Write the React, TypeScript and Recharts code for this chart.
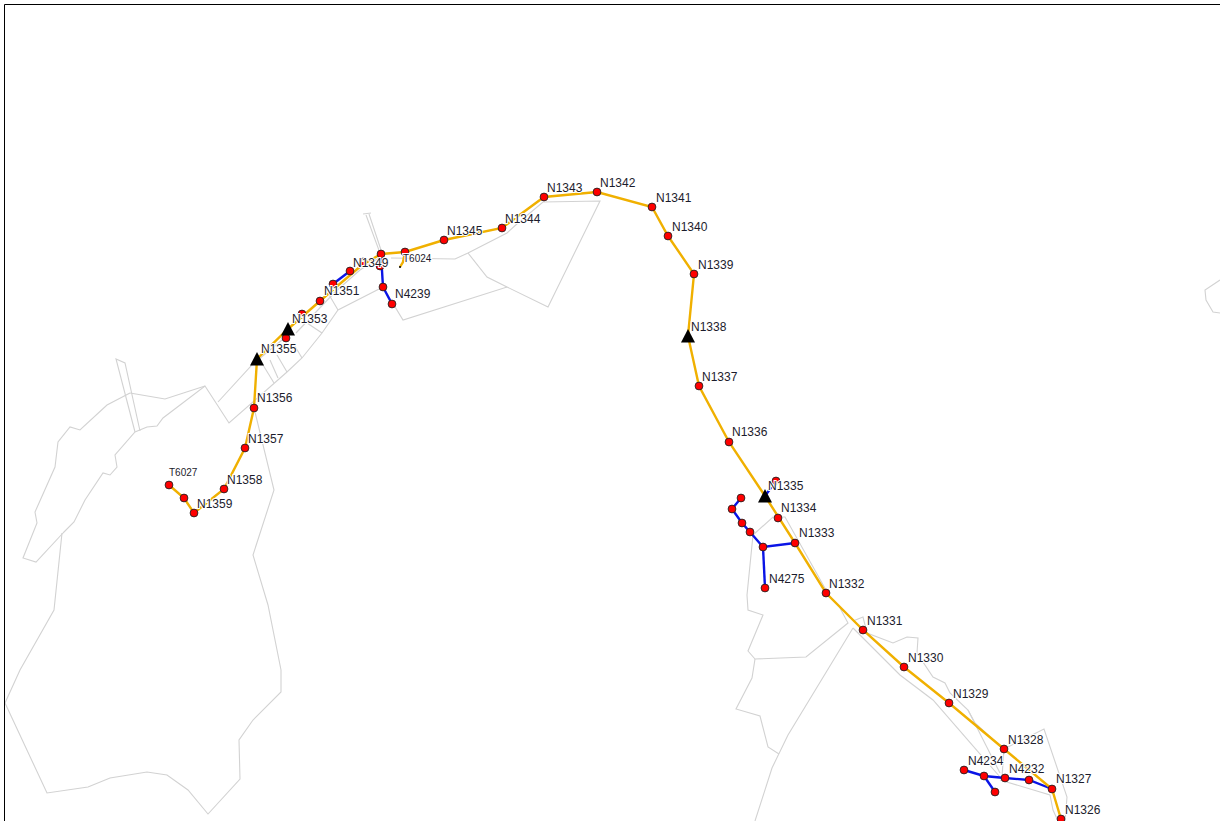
import { ScatterChart, Scatter, XAxis, YAxis } from 'recharts'

// map coordinates
type P = [number, number]

const frame: P[] = [[1220, 4.5], [4.5, 4.5], [4.5, 821]]

const parcels: P[][] = [
    // big southern parcel
    [[254, 408], [274, 490], [253, 555], [268, 605], [281, 670], [281, 692], [253, 720], [239, 740], [240, 779], [208, 814], [188, 790], [167, 775], [147, 772], [110, 778], [88, 787], [47, 793], [5, 703], [20, 670], [54, 610], [62, 533]],
    [[63, 533], [74, 522], [85, 500], [103, 473], [110, 475], [117, 467], [115, 455], [135, 432], [147, 427], [157, 426], [163, 418], [205, 386], [229, 423], [287, 372], [302, 358], [322, 333], [338, 310], [383, 287], [403, 320], [507, 287], [548, 307], [600, 201], [543, 202], [518, 223], [507, 233], [468, 253], [455, 259], [391, 258]],
    [[507, 287], [487, 277], [468, 253]],
    [[130, 393], [107, 405], [80, 430], [70, 427], [58, 442], [55, 467], [35, 512], [37, 523], [23, 558], [36, 562], [63, 533]],
    [[130, 393], [165, 399], [205, 386]],
    [[135, 432], [116, 359], [125, 363], [140, 431]],
    [[218, 402], [252, 365], [288, 335]],
    [[263, 365], [274, 383]],
    [[270, 360], [278, 378]],
    [[277, 355], [287, 372]],
    [[293, 343], [302, 358]],
    [[307, 323], [322, 333]],
    [[328, 293], [338, 310]],
    [[296, 333], [335, 292], [360, 270], [382, 256]],
    [[363, 214], [371, 213]],
    [[366, 215], [380, 253], [383, 287]],
    [[369, 214], [382, 253]],
    // road strip, east side
    [[853, 628], [900, 675], [933, 700], [1000, 777]],
    [[853, 621], [863, 617], [867, 633], [893, 643], [907, 637], [918, 638], [917, 653], [933, 677], [945, 683], [950, 693], [968, 710], [975, 723], [988, 735], [1002, 748]],
    [[968, 710], [1000, 773]],
    [[1004, 749], [1044, 729], [1067, 797], [1065, 821]],
    [[1004, 749], [1002, 777]],
    [[1000, 780], [1050, 795], [1053, 810], [1058, 821]],
    // east parcels
    [[840, 608], [848, 623], [806, 657], [755, 659], [748, 651], [763, 615], [748, 610], [747, 595], [753, 535], [773, 517], [785, 517], [826, 590]],
    [[755, 659], [752, 678], [736, 709], [760, 716], [768, 747], [779, 754]],
    [[853, 628], [788, 735], [772, 768], [755, 821]],
    [[1220, 280], [1205, 290], [1206, 300], [1213, 312], [1220, 313]],
]

const blueLines: P[][] = [
    [[333, 284], [350, 271]],
    [[381, 254], [383, 287], [392, 304]],
    [[741, 498], [732, 509], [742, 523], [750, 532], [763, 547], [795, 543]],
    [[763, 547], [765, 588]],
    [[765, 496], [776, 481]],
    [[964, 770], [984, 776], [1005, 778], [1029, 780], [1052, 789]],
    [[984, 776], [995, 792]],
]

const yellowLines: P[][] = [
    [[169, 485], [184, 498], [194, 513], [224, 489], [245, 448], [254, 408], [257, 359], [288, 329], [320, 301], [335, 288], [362, 265], [381, 254], [405, 252], [444, 240], [502, 228], [544, 197], [597, 192], [652, 207], [668, 236], [694, 274], [688, 336], [699, 386], [729, 442], [765, 496], [795, 543], [826, 593], [863, 630], [904, 667], [949, 703], [1004, 749], [1052, 789], [1061, 819]],
    [[405, 252], [403, 262], [400, 267]],
]

const nodes: P[] = [
    [169, 485], [184, 498], [194, 513], [224, 489], [245, 448], [254, 408], [286, 338], [302, 314], [320, 301], [333, 284], [350, 271], [363, 262], [380, 266], [381, 254], [405, 252], [383, 287], [392, 304], [444, 240], [502, 228], [544, 197], [597, 192], [652, 207], [668, 236], [694, 274], [699, 386], [729, 442], [776, 481], [778, 518], [795, 543], [826, 593], [863, 630], [904, 667], [949, 703], [1004, 749], [1052, 789], [1061, 819],
    [741, 498], [732, 509], [742, 523], [750, 532], [763, 547], [765, 588],
    [964, 770], [984, 776], [1005, 778], [1029, 780], [995, 792],
]

const triangles: P[] = [[257, 359], [288, 329], [688, 336], [765, 496]]

const endDots: P[] = [[400, 267]]

const labelNames = ['N1342', 'N1343', 'N1341', 'N1340', 'N1339', 'N1338', 'N1337', 'N1336', 'N1335', 'N1334', 'N1333', 'N1332', 'N1331', 'N1330', 'N1329', 'N1328', 'N4234', 'N4232', 'N1327', 'N1326', 'N4275', 'N1344', 'N1345', 'N1349', 'N4239', 'N1351', 'N1353', 'N1355', 'N1356', 'N1357', 'N1358', 'N1359']
const labelSpots: P[] = [[600, 183], [547, 188], [656, 198], [672, 227], [698, 265], [691, 327], [702, 377], [732, 432], [768, 486], [781, 508], [799, 533], [829, 584], [867, 621], [908, 658], [953, 694], [1008, 740], [968, 761], [1009, 769], [1056, 779], [1065, 810], [769, 579], [505, 219], [447, 231], [353, 263], [395, 294], [324, 291], [292, 319], [261, 349], [257, 398], [248, 439], [227, 480], [197, 504]]

const smallLabelNames = ['T6024', 'T6027']
const smallLabelSpots: P[] = [[403, 258], [169, 472]]

const toPoints = (list: P[]) => list.map(([x, y]) => ({ x, y }))

const NoDot = () => null

const NodeDot = ({ cx, cy }: any) => (
    <circle cx={cx} cy={cy} r={3.9} fill="#ff0000" stroke="#222" strokeWidth={0.9} />
)

const SmallDot = ({ cx, cy }: any) => <circle cx={cx} cy={cy} r={1} fill="#000" />

const TriangleMark = ({ cx, cy }: any) => (
    <path d={`M${cx} ${cy - 7}L${cx + 7} ${cy + 6.5}L${cx - 7} ${cy + 6.5}Z`} fill="#000" />
)

const makeLabel = (size: number) => ({ cx, cy, payload }: any) => (
    <text
        x={cx}
        y={cy}
        fontFamily="Liberation Sans"
        fontSize={size}
        fill="#1c1c2c"
        stroke="#fff"
        strokeWidth={2}
        paintOrder="stroke"
        dominantBaseline="central"
    >
        {payload.name}
    </text>
)

export default function App() {
    const labels = labelSpots.map(([x, y], i) => ({ x, y, name: labelNames[i] }))
    const smallLabels = smallLabelSpots.map(([x, y], i) => ({ x, y, name: smallLabelNames[i] }))

    const lineSeries = (list: P[][], stroke: string, width: number, key: string) =>
        list.map((points, i) => (
            <Scatter
                key={`${key}${i}`}
                data={toPoints(points)}
                line={{ stroke, strokeWidth: width }}
                shape={NoDot}
                isAnimationActive={false}
            />
        ))

    return (
        <div style={{ position: 'fixed', left: 0, top: 0, width: 1220, height: 821, background: '#fff' }}>
            <ScatterChart width={1220} height={821} margin={{ top: 0, right: 0, bottom: 0, left: 0 }}>
                <XAxis type="number" dataKey="x" domain={[0, 1220]} hide allowDataOverflow />
                <YAxis type="number" dataKey="y" domain={[0, 821]} reversed hide allowDataOverflow />
                {lineSeries(parcels, '#d2d2d2', 1.1, 'parcel')}
                {lineSeries(blueLines, '#0a14e6', 2.4, 'blue')}
                {lineSeries(yellowLines, '#f0b000', 2.4, 'yellow')}
                {lineSeries([frame], '#000', 1, 'frame')}
                <Scatter data={toPoints(endDots)} shape={SmallDot} isAnimationActive={false} />
                <Scatter data={toPoints(nodes)} shape={NodeDot} isAnimationActive={false} />
                <Scatter data={toPoints(triangles)} shape={TriangleMark} isAnimationActive={false} />
                <Scatter data={labels} shape={makeLabel(12)} isAnimationActive={false} />
                <Scatter data={smallLabels} shape={makeLabel(10)} isAnimationActive={false} />
            </ScatterChart>
        </div>
    )
}
